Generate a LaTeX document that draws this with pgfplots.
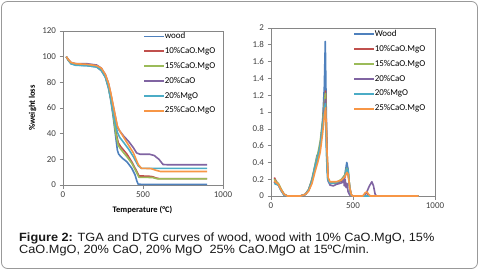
\documentclass[border=0pt]{standalone}
\usepackage{pgfplots}
\pgfplotsset{compat=1.18}
\usepackage{fontspec}
\setmainfont{Carlito}
\newfontfamily\arial{Liberation Sans}
\definecolor{cBlue}{HTML}{4F81BD}
\definecolor{cRed}{HTML}{C0504D}
\definecolor{cGreen}{HTML}{9BBB59}
\definecolor{cPurple}{HTML}{8064A2}
\definecolor{cTeal}{HTML}{4BACC6}
\definecolor{cOrange}{HTML}{F79646}
\definecolor{cFrame}{HTML}{868686}
\definecolor{cText}{HTML}{404040}
\pgfplotsset{
  exstyle/.style={
    scale only axis,
    axis line style={cFrame, line width=0.7bp},
    tick style={cFrame, line width=0.6bp},
    tick align=outside,
    major tick length=3.5bp,
    xtick pos=bottom, ytick pos=left,
    tick label style={font=\fontsize{9}{10}\selectfont, text=cText},
    /pgf/number format/assume math mode=true,
    /pgf/number format/1000 sep={},
    xmin=0, xmax=1000, xtick={0,500,1000},
    legend cell align=left,
    legend image code/.code={\draw[##1, line width=1.6bp] (0bp,0bp) -- (20bp,0bp);},
    legend style={draw=none, fill=none, inner sep=0pt, row sep=6.2bp,
      font=\fontsize{9}{10}\selectfont, text=black,
      nodes={inner sep=0pt, text height=6.5bp, text depth=2.2bp}},
    every axis plot/.append style={line width=1.6bp, line join=round},
  }
}
\begin{document}
\begin{tikzpicture}[x=1bp,y=1bp]
\path[use as bounding box] (0,0) rectangle (479,273);
\draw[color=black!40, line width=0.8bp, rounded corners=6bp] (1.5,4.5) rectangle (477.5,271.5);

\begin{axis}[exstyle, at={(63bp,88bp)}, anchor=south west,
  width=160bp, height=154bp,
  ymin=0, ymax=120, ytick={0,20,...,120},
  xlabel={\bfseries Temperature (°C)},
  ylabel={\bfseries \%weight loss},
  label style={font=\fontsize{8.5}{10}\selectfont, text=black},
  xlabel style={at={(axis description cs:0.497,-0.165)}, anchor=center},
  ylabel style={at={(axis description cs:-0.19,0.5)}, anchor=center, rotate=0},
  legend style={at={(axis description cs:0.5,0.995)}, anchor=north west},
]
\addplot[cBlue] coordinates {(20,100)(35,97)(50,94.5)(80,93.5)(150,93)(210,92)(240,89)(265,84)(285,75)(300,65)(315,52)(330,37)(340,27)(348,24)(370,21)(400,18)(430,13)(450,8)(462,3)(470,0.6)(500,0.5)(900,0.5)};
\addlegendentry{wood}
\addplot[cRed] coordinates {(20,100)(35,97)(50,95)(80,94)(150,93.5)(210,92.5)(240,90)(265,85)(285,77)(300,67)(315,55)(330,42)(345,33)(360,30)(400,24)(430,18)(455,12)(475,7)(500,7)(540,6.8)(560,6.5)(580,5.5)(600,5)(900,5)};
\addlegendentry{10\%CaO.MgO}
\addplot[cGreen] coordinates {(20,100)(35,97)(50,95)(80,94)(150,93.5)(210,92.3)(240,89.5)(265,84.5)(285,76)(300,66)(315,54)(330,40)(345,31)(360,28)(400,22)(430,17)(455,11)(475,6)(500,6)(560,5.8)(590,4.8)(900,4.8)};
\addlegendentry{15\%CaO.MgO}
\addplot[cPurple] coordinates {(20,100)(35,97.5)(50,95.5)(80,94.5)(150,94.5)(210,93.5)(240,91)(265,86)(285,79)(300,70)(320,58)(340,45)(355,42)(380,38)(410,34)(440,29)(460,25)(480,24)(540,24)(570,23)(600,20)(625,16)(650,15.8)(900,15.8)};
\addlegendentry{20\%CaO}
\addplot[cTeal] coordinates {(20,100)(35,97)(50,94.5)(80,93.3)(150,93)(210,92)(240,89.5)(265,84)(285,76)(300,66)(320,52)(340,41)(355,37)(380,33)(410,28)(440,22)(470,15)(490,13)(900,13)};
\addlegendentry{20\%MgO}
\addplot[cOrange] coordinates {(20,100)(35,97.5)(50,95.5)(80,94.5)(150,94)(210,93)(240,91)(265,86)(285,79)(300,71)(320,58)(340,46)(355,42)(380,37)(410,31)(440,25)(470,16)(490,13)(550,12.8)(580,11.5)(610,10.5)(900,10.5)};
\addlegendentry{25\%CaO.MgO}
\end{axis}

\begin{axis}[exstyle, at={(271bp,77bp)}, anchor=south west,
  width=164bp, height=168bp,
  ymin=0, ymax=2, ytick={0,0.2,...,2.01},
  yticklabel style={/pgf/number format/.cd, fixed, precision=1},
  legend style={at={(axis description cs:0.5,0.99)}, anchor=north west},
]
\addplot[cBlue] coordinates {(20,0.17)(30,0.15)(45,0.14)(60,0.08)(80,0.02)(100,0)(180,0)(210,0.02)(230,0.08)(250,0.2)(270,0.38)(280,0.48)(290,0.5)(300,0.6)(315,0.9)(325,1.3)(331,1.84)(337,1.0)(343,0.3)(350,0.18)(370,0.15)(400,0.15)(430,0.18)(450,0.25)(462,0.4)(470,0.32)(478,0.12)(485,0.02)(495,0)(900,0)};
\addlegendentry{Wood}
\addplot[cRed] coordinates {(20,0.22)(30,0.18)(45,0.14)(60,0.08)(80,0.02)(100,0)(180,0)(210,0.02)(230,0.07)(250,0.18)(270,0.35)(285,0.45)(300,0.6)(315,0.85)(325,1.1)(333,1.25)(340,0.6)(348,0.2)(360,0.15)(400,0.16)(430,0.18)(450,0.22)(462,0.3)(470,0.28)(480,0.1)(490,0.01)(500,0)(560,0)(580,0.04)(595,0.01)(610,0)(900,0)};
\addlegendentry{10\%CaO.MgO}
\addplot[cGreen] coordinates {(20,0.2)(30,0.17)(45,0.15)(60,0.09)(80,0.02)(100,0)(180,0)(210,0.02)(230,0.08)(250,0.2)(270,0.38)(285,0.5)(300,0.65)(315,0.9)(325,1.1)(332,1.22)(340,0.6)(348,0.2)(360,0.15)(400,0.16)(430,0.2)(450,0.25)(462,0.33)(470,0.3)(480,0.1)(490,0.01)(500,0)(900,0)};
\addlegendentry{15\%CaO.MgO}
\addplot[cPurple] coordinates {(20,0.17)(30,0.15)(45,0.13)(60,0.07)(80,0.01)(100,0)(180,0)(210,0.02)(230,0.07)(250,0.18)(270,0.35)(285,0.45)(300,0.6)(315,0.85)(325,1.05)(332,1.15)(340,0.55)(348,0.18)(360,0.13)(380,0.12)(400,0.14)(420,0.15)(435,0.16)(442,0.22)(447,0.12)(452,0.2)(458,0.1)(463,0.15)(470,0.05)(480,0.01)(500,0)(560,0)(580,0.03)(600,0.12)(615,0.17)(625,0.12)(635,0.02)(645,0)(900,0)};
\addlegendentry{20\%CaO}
\addplot[cTeal] coordinates {(20,0.15)(30,0.14)(45,0.13)(60,0.07)(80,0.01)(100,0)(180,0)(210,0.02)(230,0.07)(250,0.18)(270,0.36)(285,0.46)(300,0.6)(315,0.85)(325,1.0)(331,1.1)(338,0.5)(345,0.2)(360,0.15)(400,0.16)(430,0.19)(450,0.24)(462,0.32)(470,0.3)(480,0.1)(488,0.01)(500,0)(900,0)};
\addlegendentry{20\%MgO}
\addplot[cOrange] coordinates {(20,0.18)(30,0.16)(45,0.14)(60,0.08)(80,0.02)(100,0)(180,0)(210,0.02)(230,0.06)(250,0.15)(270,0.3)(285,0.4)(300,0.52)(315,0.75)(325,0.95)(333,1.05)(340,0.6)(348,0.22)(360,0.17)(400,0.17)(430,0.19)(450,0.23)(462,0.28)(470,0.26)(480,0.1)(490,0.01)(500,0)(560,0)(575,0.04)(585,0.05)(595,0.02)(605,0)(900,0)};
\addlegendentry{25\%CaO.MgO}
\end{axis}

\node[anchor=base west, inner sep=0pt, xscale=1.065, font=\arial\fontsize{12}{13}\selectfont, text=black!90] at (19,31.5) {\textbf{Figure 2:} TGA and DTG curves of wood, wood with 10\% CaO.MgO, 15\%};
\node[anchor=base west, inner sep=0pt, xscale=1.065, font=\arial\fontsize{12}{13}\selectfont, text=black!90] at (19,20) {CaO.MgO, 20\% CaO, 20\% MgO\ \ 25\% CaO.MgO at 15ºC/min.};
\end{tikzpicture}
\end{document}
